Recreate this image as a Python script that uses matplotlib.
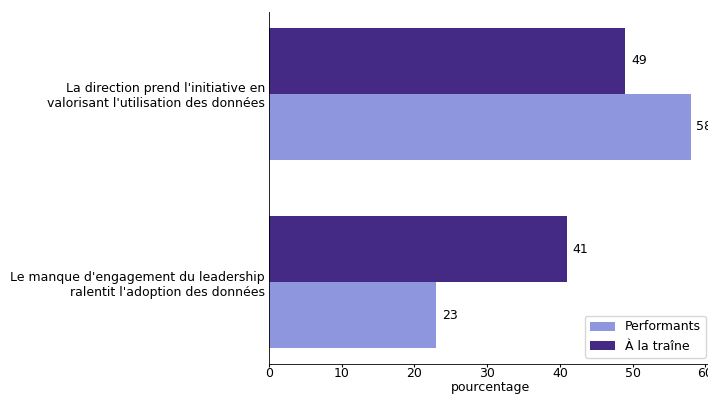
import numpy as np
import matplotlib.pyplot as plt

categories = ["Le manque d'engagement du leadership\nralentit l'adoption des données",
              "La direction prend l'initiative en\nvalorisant l'utilisation des données"]
performants = [23, 58]
a_la_traine = [41, 49]

y = np.arange(len(categories))
h = 0.35
fs = 9

fig = plt.figure(figsize=(7.08, 3.94), dpi=100)
# axes run a little past the right edge of the canvas
ax = fig.add_axes([269 / 708, 30 / 394, 443 / 708, 352 / 394])

b1 = ax.barh(y - h / 2, performants, h, color="#8e96dd", label="Performants")
b2 = ax.barh(y + h / 2, a_la_traine, h, color="#442a85", label="À la traîne")
ax.bar_label(b1, padding=4, fontsize=fs)
ax.bar_label(b2, padding=4, fontsize=fs)

ax.set_yticks(y)
ax.set_yticklabels(categories, fontsize=fs)
ax.tick_params(axis="y", length=0, pad=3)
ax.tick_params(axis="x", labelsize=fs, length=2, pad=0.5)
ax.set_xlim(0, 60.9)
ax.set_xticks(range(0, 61, 10))
ax.set_xlabel("pourcentage", fontsize=fs, labelpad=0.5)
ax.spines["top"].set_visible(False)
ax.spines["right"].set_visible(False)
ax.spines["left"].set_linewidth(0.6)
ax.spines["bottom"].set_linewidth(0.6)
ax.legend(loc="lower right", fontsize=fs)

fig.savefig("out.png", dpi=100)
